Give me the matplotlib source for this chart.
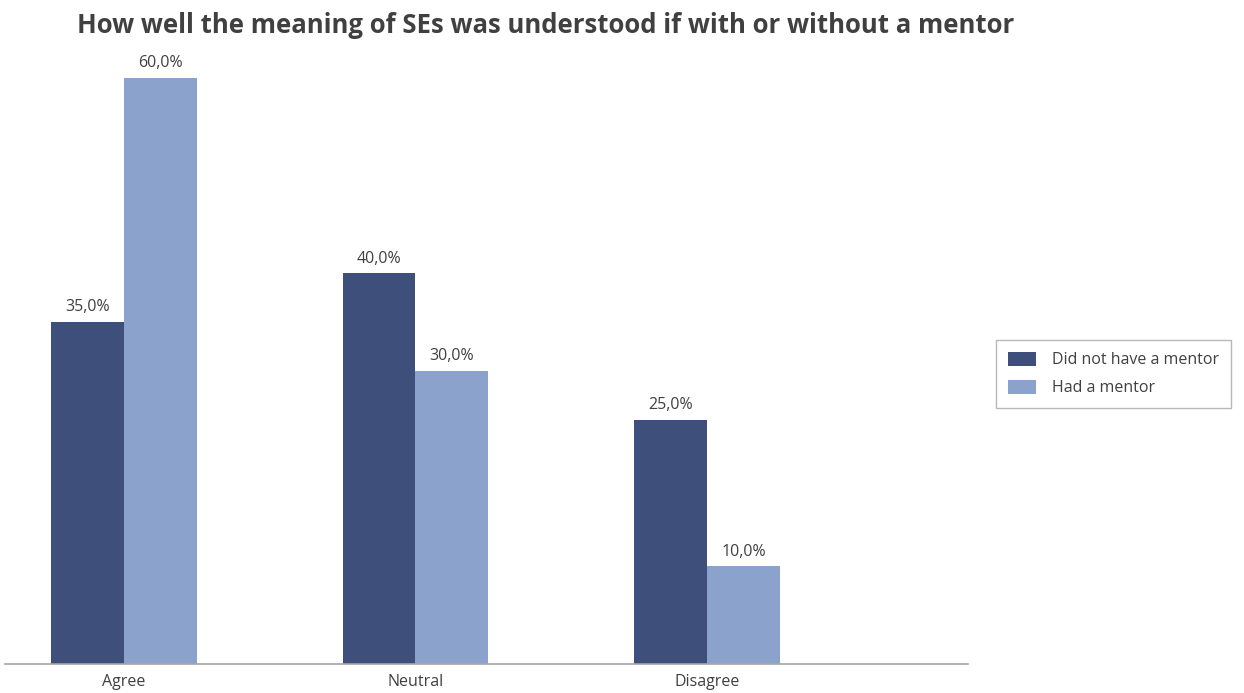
import numpy as np
import matplotlib
import matplotlib.pyplot as plt

matplotlib.use("Agg")

categories = ["Agree", "Neutral", "Disagree"]
series_names = ["Did not have a mentor", "Had a mentor"]
no_mentor = [35.0, 40.0, 25.0]
with_mentor = [60.0, 30.0, 10.0]

colors = ["#3F4F7B", "#8BA2CD"]
text_color = "#404040"

plt.rcParams["font.family"] = ["Open Sans", "DejaVu Sans"]

fig = plt.figure(figsize=(12.44, 6.93), dpi=100)
ax = fig.add_axes([0.004, 0.0418, 0.774, 0.8738])

x = np.arange(len(categories))
width = 0.25

# Barras por grupo
for offset, values, color, name in [
    (-width / 2, no_mentor, colors[0], series_names[0]),
    (width / 2, with_mentor, colors[1], series_names[1]),
]:
    bars = ax.bar(x + offset, values, width, color=color, label=name)
    for rect, v in zip(bars, values):
        ax.text(
            rect.get_x() + rect.get_width() / 2,
            v + 0.7,
            f"{v:.1f}%".replace(".", ","),
            ha="center",
            va="bottom",
            fontsize=11.5,
            color=text_color,
        )

ax.set_xlim(-0.408, 2.895)
ax.set_ylim(0, 62)
ax.set_xticks(x)
ax.set_xticklabels(categories, fontsize=11.5, color=text_color)
ax.tick_params(axis="x", length=0, pad=7)
ax.set_yticks([])
for side in ["top", "right", "left"]:
    ax.spines[side].set_visible(False)
ax.spines["bottom"].set_color("#A6A6A6")
ax.spines["bottom"].set_linewidth(1.2)

fig.suptitle(
    "How well the meaning of SEs was understood if with or without a mentor",
    x=546 / 1244,
    y=1 - 12 / 693,
    fontsize=18.5,
    fontweight="bold",
    color=text_color,
    va="top",
)

leg = fig.legend(
    loc="center left",
    bbox_to_anchor=(996 / 1244, 1 - 374 / 693),
    borderaxespad=0,
    fontsize=11.5,
    frameon=True,
    fancybox=False,
    edgecolor="#A6A6A6",
    handlelength=1.75,
    handleheight=1.0,
    handletextpad=1.0,
    borderpad=0.75,
    labelspacing=0.7,
)
leg.get_frame().set_linewidth(1.0)
for t in leg.get_texts():
    t.set_color(text_color)

fig.savefig("out.png", dpi=100, facecolor="white")
plt.close()
